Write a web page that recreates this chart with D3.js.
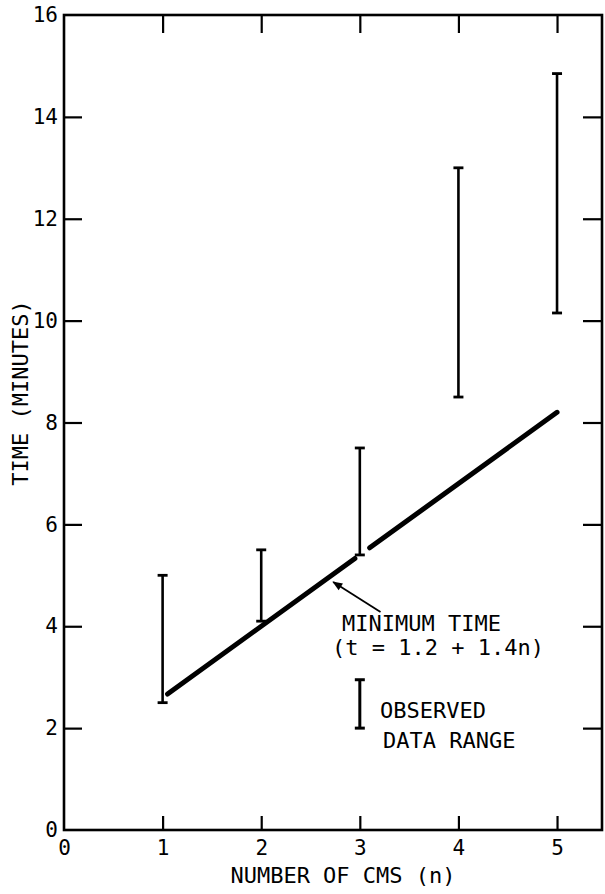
<!DOCTYPE html>
<html>
<head>
  <meta charset="utf-8">
  <script src="https://d3js.org/d3.v7.min.js"></script>
  <style>
    body { margin:0; background:#fff; }
    text { font-family: "DejaVu Sans Mono", monospace; fill:#000; }
  </style>
</head>
<body>
  <script>
    // data
    var nValues = [1, 2, 3, 4, 5];
    var rangeLow = [2.5, 4.1, 5.4, 8.5, 10.15];
    var rangeHigh = [5.0, 5.5, 7.5, 13.0, 14.85];
    // minimum time line, drawn in two pieces (broken at n = 3)
    var minLineA = [[1.05, 2.67], [2.95, 5.33]];
    var minLineB = [[3.1, 5.54], [5.0, 8.2]];
    var xTicks = [0, 1, 2, 3, 4, 5];
    var yTicks = [0, 2, 4, 6, 8, 10, 12, 14, 16];
    // legend / annotation, in data units
    var legendBar = {n: 3, lo: 2.0, hi: 2.95};
    var arrowFrom = [3.21, 4.28], arrowTo = [2.73, 4.87];

    var W = 605, H = 894;
    var m = {left: 64, right: 602, top: 15, bottom: 830};

    var svg = d3.select("body").append("svg")
      .attr("width", W)
      .attr("height", H);

    var x = d3.scaleLinear().domain([0, 5.456]).range([m.left, m.right]);
    var y = d3.scaleLinear().domain([0, 16]).range([m.bottom, m.top]);

    svg.append("defs").append("marker")
      .attr("id", "arr")
      .attr("viewBox", "0 0 10 10")
      .attr("refX", 9).attr("refY", 5)
      .attr("markerWidth", 13).attr("markerHeight", 10)
      .attr("markerUnits", "userSpaceOnUse")
      .attr("orient", "auto")
      .append("path").attr("d", "M0,1 L10,5 L0,9 Z").attr("fill", "#000");

    // axes, ticks pointing inward
    var gl = svg.append("g").attr("transform", "translate(" + m.left + ",0)")
      .call(d3.axisLeft(y).tickValues(yTicks).tickSize(-18).tickPadding(6).tickFormat(d3.format("d")));
    var gb = svg.append("g").attr("transform", "translate(0," + m.bottom + ")")
      .call(d3.axisBottom(x).tickValues(xTicks).tickSize(-14).tickPadding(10).tickFormat(d3.format("d")));
    var gt = svg.append("g").attr("transform", "translate(0," + m.top + ")")
      .call(d3.axisTop(x).tickValues(xTicks.slice(1)).tickSize(-18).tickFormat(""));
    var gr = svg.append("g").attr("transform", "translate(" + m.right + ",0)")
      .call(d3.axisRight(y).tickValues(yTicks.slice(1, -1)).tickSize(-19).tickFormat(""));

    [gl, gb, gt, gr].forEach(function(g) {
      g.select(".domain").remove();
      g.selectAll("line").attr("stroke", "#000").attr("stroke-width", 2.2);
      g.selectAll("text").attr("font-size", 21).attr("font-family", "DejaVu Sans Mono");
    });
    gl.selectAll(".tick").filter(function(d) { return d === 0 || d === 16; }).select("line").remove();
    gb.selectAll(".tick").filter(function(d) { return d === 0; }).select("line").remove();

    svg.append("rect")
      .attr("x", m.left).attr("y", m.top)
      .attr("width", m.right - m.left).attr("height", m.bottom - m.top)
      .attr("fill", "none").attr("stroke", "#000").attr("stroke-width", 2.6);

    // observed data ranges
    var bars = svg.append("g");
    nValues.forEach(function(n, i) {
      var g = bars.append("g").attr("stroke", "#000");
      g.append("line").attr("x1", x(n)).attr("x2", x(n))
        .attr("y1", y(rangeLow[i])).attr("y2", y(rangeHigh[i])).attr("stroke-width", 2.6);
      [rangeLow[i], rangeHigh[i]].forEach(function(v) {
        g.append("line").attr("x1", x(n) - 5).attr("x2", x(n) + 5)
          .attr("y1", y(v)).attr("y2", y(v)).attr("stroke-width", 2.8);
      });
    });

    // minimum time line
    var line = d3.line().x(function(d) { return x(d[0]); }).y(function(d) { return y(d[1]); });
    [minLineA, minLineB].forEach(function(seg) {
      svg.append("path").attr("d", line(seg))
        .attr("fill", "none").attr("stroke", "#000")
        .attr("stroke-width", 5).attr("stroke-linecap", "round");
    });

    // annotation arrow + label
    svg.append("line")
      .attr("x1", x(arrowFrom[0])).attr("y1", y(arrowFrom[1]))
      .attr("x2", x(arrowTo[0])).attr("y2", y(arrowTo[1]))
      .attr("stroke", "#000").attr("stroke-width", 1.8)
      .attr("marker-end", "url(#arr)");
    svg.append("text").text("MINIMUM TIME")
      .attr("x", 342).attr("y", 631).attr("font-size", 22);
    svg.append("text").text("(t = 1.2 + 1.4n)")
      .attr("x", 332).attr("y", 655).attr("font-size", 22);

    // legend
    var lg = svg.append("g").attr("stroke", "#000");
    lg.append("line").attr("x1", x(legendBar.n)).attr("x2", x(legendBar.n))
      .attr("y1", y(legendBar.lo)).attr("y2", y(legendBar.hi)).attr("stroke-width", 3);
    [legendBar.lo, legendBar.hi].forEach(function(v) {
      lg.append("line").attr("x1", x(legendBar.n) - 5).attr("x2", x(legendBar.n) + 5)
        .attr("y1", y(v)).attr("y2", y(v)).attr("stroke-width", 3);
    });
    svg.append("text").text("OBSERVED").attr("x", 380).attr("y", 718).attr("font-size", 22);
    svg.append("text").text("DATA RANGE").attr("x", 383).attr("y", 748).attr("font-size", 22);

    // axis titles
    svg.append("text").text("NUMBER OF CMS (n)")
      .attr("x", 343).attr("y", 883).attr("text-anchor", "middle").attr("font-size", 22);
    svg.append("text").text("TIME (MINUTES)")
      .attr("transform", "translate(28,393) rotate(-90)")
      .attr("text-anchor", "middle").attr("font-size", 22);
  </script>
</body>
</html>
